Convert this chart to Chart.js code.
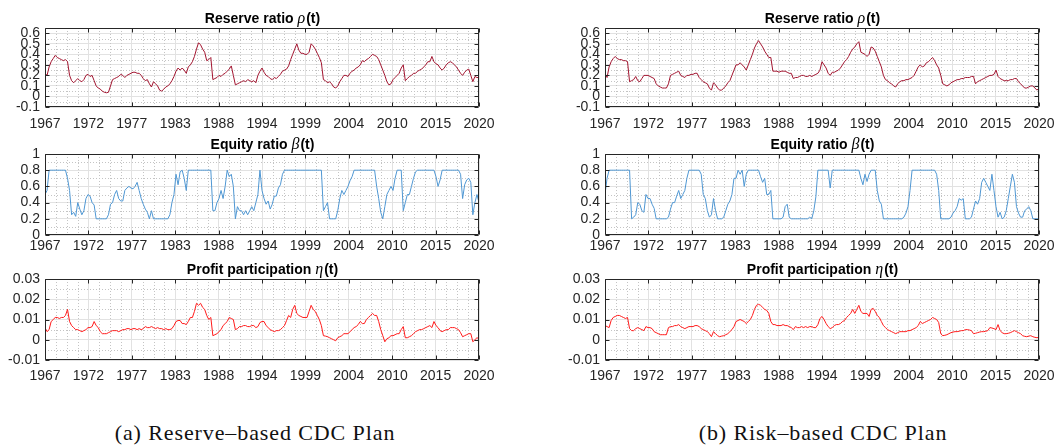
<!DOCTYPE html>
<html>
<head>
<meta charset="utf-8">
<script src="https://cdn.jsdelivr.net/npm/chart.js@4.4.1/dist/chart.umd.min.js"></script>
<style>
  html, body { margin: 0; padding: 0; background: #fff; }
  body { width: 1059px; height: 447px; position: relative; overflow: hidden; }
  .panel { position: absolute; }
  .caption {
    position: absolute;
    font-family: "Liberation Serif", serif;
    font-size: 22px;
    line-height: 22px;
    letter-spacing: 0.9px;
    color: #111;
    white-space: nowrap;
    transform: translateX(-50%);
  }
</style>
</head>
<body>

<div class="caption" style="left:255px; top:422px">(a) Reserve–based CDC Plan</div>
<div class="caption" style="left:823px; top:422px">(b) Risk–based CDC Plan</div>

<script>
// quarterly samples, 1967 .. 2020
const yearStart = 1967;
const yearEnd = 2020;
const years = Array.from({ length: (yearEnd - yearStart) * 4 + 1 }, (_, i) => yearStart + i / 4);

const xTickPos = [1967, 1972.3, 1977.6, 1982.9, 1988.2, 1993.5, 1998.8, 2004.1, 2009.4, 2014.7, 2020];
const xTickLabels = ['1967', '1972', '1977', '1983', '1988', '1994', '1999', '2004', '2010', '2015', '2020'];

const rhoTicks = [-0.1, 0, 0.1, 0.2, 0.3, 0.4, 0.5, 0.6];
const betaTicks = [0, 0.2, 0.4, 0.6, 0.8, 1];
const etaTicks = [-0.01, 0, 0.01, 0.02, 0.03];

// (a) reserve-based plan
const rhoReserve = [
  0.22, 0.20, 0.28, 0.33,   0.36, 0.39, 0.37, 0.36,   0.35, 0.34, 0.35, 0.33,
  0.20, 0.15, 0.13, 0.15,   0.17, 0.15, 0.14, 0.16,   0.20, 0.21, 0.19, 0.20,
  0.15, 0.10, 0.08, 0.07,   0.05, 0.04, 0.035, 0.04,  0.10, 0.16, 0.17, 0.18,
  0.19, 0.21, 0.20, 0.18,   0.20, 0.21, 0.22, 0.23,   0.23, 0.22, 0.22, 0.20,
  0.17, 0.15, 0.16, 0.12,   0.09, 0.14, 0.12, 0.10,   0.06, 0.05, 0.07, 0.09,
  0.10, 0.12, 0.15, 0.19,   0.24, 0.27, 0.25, 0.27,   0.25, 0.22, 0.28, 0.30,
  0.33, 0.38, 0.45, 0.51,   0.49, 0.45, 0.42, 0.34,   0.35, 0.37, 0.16, 0.17,
  0.18, 0.20, 0.19, 0.21,   0.22, 0.24, 0.26, 0.29,   0.20, 0.11, 0.12, 0.13,
  0.14, 0.15, 0.14, 0.16,   0.15, 0.14, 0.15, 0.13,   0.20, 0.24, 0.27, 0.23,
  0.20, 0.19, 0.17, 0.16,   0.18, 0.17, 0.19, 0.21,   0.24, 0.25, 0.26, 0.29,
  0.35, 0.40, 0.45, 0.50,   0.44, 0.41, 0.41, 0.40,   0.40, 0.42, 0.50, 0.48,
  0.45, 0.41, 0.37, 0.32,   0.16, 0.15, 0.13, 0.14,   0.12, 0.09, 0.08, 0.10,
  0.14, 0.17, 0.20, 0.20,   0.19, 0.22, 0.24, 0.25,   0.27, 0.28, 0.30, 0.34,
  0.33, 0.35, 0.36, 0.38,   0.40, 0.39, 0.38, 0.35,   0.30, 0.25, 0.20, 0.14,
  0.11, 0.12, 0.16, 0.18,   0.20, 0.22, 0.27, 0.30,   0.15, 0.17, 0.19, 0.20,
  0.22, 0.22, 0.24, 0.25,   0.26, 0.28, 0.30, 0.33,   0.33, 0.38, 0.33, 0.31,
  0.30, 0.27, 0.25, 0.27,   0.30, 0.32, 0.33, 0.32,   0.30, 0.28, 0.25, 0.22,
  0.20, 0.23, 0.25, 0.26,   0.20, 0.14, 0.19, 0.18,
  0.18
];

const betaReserve = [
  0.50, 0.55, 0.80, 0.80,   0.80, 0.80, 0.80, 0.80,   0.80, 0.80, 0.80, 0.70,
  0.55, 0.25, 0.28, 0.23,   0.40, 0.32, 0.25, 0.30,   0.45, 0.50, 0.48, 0.40,
  0.37, 0.20, 0.20, 0.20,   0.20, 0.20, 0.20, 0.25,   0.38, 0.40, 0.50, 0.55,
  0.45, 0.42, 0.42, 0.55,   0.58, 0.60, 0.58, 0.57,   0.60, 0.65, 0.55, 0.45,
  0.38, 0.32, 0.28, 0.20,   0.30, 0.20, 0.20, 0.20,   0.20, 0.20, 0.20, 0.20,
  0.20, 0.25, 0.40, 0.50,   0.75, 0.62, 0.78, 0.80,   0.70, 0.55, 0.80, 0.80,
  0.80, 0.80, 0.80, 0.80,   0.80, 0.80, 0.80, 0.80,   0.80, 0.80, 0.30, 0.30,
  0.40, 0.45, 0.55, 0.45,   0.60, 0.80, 0.72, 0.75,   0.60, 0.20, 0.35, 0.30,
  0.30, 0.25, 0.30, 0.25,   0.30, 0.35, 0.30, 0.40,   0.50, 0.80, 0.55, 0.45,
  0.38, 0.42, 0.32, 0.38,   0.48, 0.48, 0.58, 0.62,   0.75, 0.80, 0.80, 0.80,
  0.80, 0.80, 0.80, 0.80,   0.80, 0.80, 0.80, 0.80,   0.80, 0.80, 0.80, 0.80,
  0.80, 0.80, 0.80, 0.80,   0.30, 0.35, 0.40, 0.20,   0.20, 0.20, 0.20, 0.30,
  0.45, 0.55, 0.50, 0.55,   0.60, 0.67, 0.72, 0.80,   0.80, 0.80, 0.80, 0.80,
  0.80, 0.80, 0.80, 0.80,   0.80, 0.80, 0.60, 0.45,   0.28, 0.20, 0.35, 0.50,
  0.55, 0.60, 0.55, 0.70,   0.80, 0.80, 0.80, 0.30,   0.40, 0.50, 0.50, 0.60,
  0.70, 0.78, 0.80, 0.80,   0.80, 0.80, 0.80, 0.80,   0.80, 0.80, 0.80, 0.72,
  0.60, 0.68, 0.80, 0.80,   0.80, 0.80, 0.80, 0.80,   0.80, 0.80, 0.80, 0.75,
  0.45, 0.62, 0.68, 0.70,   0.65, 0.25, 0.40, 0.50,
  0.40
];

const etaReserve = [
  0.006, 0.004, 0.005, 0.009,     0.010, 0.011, 0.011, 0.0105,    0.011, 0.011, 0.012, 0.015,
  0.009, 0.007, 0.006, 0.005,     0.005, 0.0045, 0.004, 0.0045,   0.005, 0.006, 0.006, 0.0065,
  0.009, 0.007, 0.006, 0.004,     0.003, 0.003, 0.003, 0.0035,    0.004, 0.0045, 0.0045, 0.0045,
  0.004, 0.0045, 0.005, 0.005,    0.0055, 0.0055, 0.005, 0.0055,  0.0055, 0.005, 0.0055, 0.005,
  0.0055, 0.0065, 0.006, 0.006,   0.0065, 0.006, 0.0055, 0.006,   0.0055, 0.0055, 0.005, 0.0055,
  0.005, 0.005, 0.0055, 0.007,    0.009, 0.0095, 0.0095, 0.008,   0.008, 0.0075, 0.009, 0.011,
  0.011, 0.014, 0.018, 0.017,     0.018, 0.016, 0.015, 0.012,     0.010, 0.011, 0.002, 0.0025,
  0.003, 0.004, 0.005, 0.007,     0.008, 0.009, 0.011, 0.0105,    0.010, 0.005, 0.0055, 0.0065,
  0.0065, 0.007, 0.007, 0.0065,   0.0065, 0.007, 0.007, 0.006,    0.0065, 0.0085, 0.009, 0.009,
  0.007, 0.006, 0.005, 0.0045,    0.004, 0.0045, 0.0045, 0.005,   0.006, 0.007, 0.0095, 0.012,
  0.011, 0.015, 0.017, 0.013,     0.012, 0.0115, 0.011, 0.011,    0.011, 0.014, 0.017, 0.015,
  0.014, 0.012, 0.010, 0.007,     0.002, 0.0018, 0.0015, 0.001,   0.0005, 0.0, -0.0005, 0.001,
  0.0015, 0.002, 0.003, 0.003,    0.003, 0.004, 0.005, 0.006,     0.0065, 0.0075, 0.009, 0.008,
  0.008, 0.010, 0.011, 0.012,     0.013, 0.012, 0.012, 0.009,     0.005, 0.002, -0.001, 0.0005,
  0.001, 0.002, 0.002, 0.0025,    0.003, 0.003, 0.005, 0.0065,    0.001, 0.001, 0.0015, 0.002,
  0.003, 0.004, 0.0045, 0.005,    0.005, 0.0055, 0.006, 0.0065,   0.007, 0.006, 0.009, 0.007,
  0.006, 0.0045, 0.004, 0.0045,   0.005, 0.005, 0.006, 0.006,     0.006, 0.0055, 0.005, 0.0035,
  0.0015, 0.002, 0.0025, 0.003,   0.003, -0.001, 0.0, 0.001,
  0.0005
];

// (b) risk-based plan
const rhoRisk = [
  0.22, 0.18, 0.28, 0.33,   0.36, 0.38, 0.36, 0.35,   0.35, 0.34, 0.34, 0.33,
  0.14, 0.15, 0.16, 0.19,   0.15, 0.14, 0.17, 0.20,   0.20, 0.20, 0.19, 0.18,
  0.17, 0.12, 0.10, 0.09,   0.08, 0.08, 0.08, 0.12,   0.20, 0.21, 0.22, 0.23,
  0.24, 0.20, 0.19, 0.18,   0.20, 0.20, 0.21, 0.21,   0.22, 0.22, 0.18, 0.16,
  0.14, 0.13, 0.12, 0.08,   0.06, 0.13, 0.11, 0.08,   0.06, 0.06, 0.08, 0.10,
  0.13, 0.15, 0.20, 0.25,   0.30, 0.30, 0.32, 0.30,   0.28, 0.25, 0.30, 0.35,
  0.40, 0.46, 0.50, 0.53,   0.50, 0.47, 0.43, 0.40,   0.37, 0.37, 0.24, 0.24,
  0.24, 0.23, 0.24, 0.24,   0.24, 0.23, 0.22, 0.22,   0.17, 0.18, 0.18, 0.19,
  0.20, 0.20, 0.19, 0.19,   0.20, 0.19, 0.20, 0.21,   0.22, 0.25, 0.33, 0.30,
  0.27, 0.22, 0.20, 0.23,   0.23, 0.24, 0.25, 0.27,   0.30, 0.33, 0.35, 0.38,
  0.42, 0.45, 0.47, 0.50,   0.52, 0.42, 0.41, 0.40,   0.38, 0.40, 0.47, 0.46,
  0.43, 0.38, 0.33, 0.28,   0.20, 0.16, 0.15, 0.13,   0.12, 0.10, 0.09, 0.12,
  0.14, 0.15, 0.15, 0.16,   0.16, 0.17, 0.18, 0.20,   0.24, 0.28, 0.30, 0.28,
  0.29, 0.32, 0.33, 0.35,   0.37, 0.34, 0.30, 0.27,   0.20, 0.12, 0.11, 0.10,
  0.11, 0.13, 0.14, 0.15,   0.16, 0.16, 0.17, 0.17,   0.18, 0.18, 0.18, 0.19,
  0.19, 0.12, 0.14, 0.15,   0.16, 0.17, 0.18, 0.19,   0.20, 0.20, 0.21, 0.25,
  0.19, 0.17, 0.16, 0.15,   0.15, 0.15, 0.16, 0.16,   0.17, 0.17, 0.14, 0.12,
  0.10, 0.08, 0.08, 0.09,   0.10, 0.10, 0.08, 0.06,
  0.08
];

const betaRisk = [
  0.50, 0.70, 0.80, 0.80,   0.80, 0.80, 0.80, 0.80,   0.80, 0.80, 0.80, 0.80,
  0.80, 0.20, 0.22, 0.25,   0.40, 0.38, 0.30, 0.28,   0.50, 0.45, 0.45, 0.38,
  0.33, 0.20, 0.20, 0.20,   0.20, 0.20, 0.20, 0.22,   0.32, 0.40, 0.40, 0.48,
  0.55, 0.45, 0.50, 0.55,   0.70, 0.80, 0.80, 0.80,   0.80, 0.80, 0.80, 0.75,
  0.50, 0.45, 0.30, 0.22,   0.25, 0.45, 0.30, 0.20,   0.20, 0.20, 0.22, 0.30,
  0.38, 0.42, 0.50, 0.70,   0.70, 0.80, 0.75, 0.80,   0.60, 0.75, 0.80, 0.80,
  0.80, 0.80, 0.80, 0.80,   0.72, 0.65, 0.70, 0.50,   0.50, 0.55, 0.20, 0.20,
  0.20, 0.20, 0.20, 0.22,   0.35, 0.38, 0.22, 0.20,   0.20, 0.20, 0.20, 0.20,
  0.20, 0.20, 0.20, 0.20,   0.22, 0.20, 0.30, 0.47,   0.80, 0.80, 0.80, 0.80,
  0.80, 0.80, 0.58, 0.80,   0.80, 0.80, 0.80, 0.80,   0.80, 0.80, 0.80, 0.80,
  0.80, 0.80, 0.80, 0.80,   0.80, 0.70, 0.62, 0.75,   0.66, 0.75, 0.80, 0.80,
  0.80, 0.55, 0.42, 0.38,   0.20, 0.20, 0.20, 0.20,   0.20, 0.20, 0.20, 0.20,
  0.20, 0.20, 0.22, 0.27,   0.35, 0.55, 0.80, 0.80,   0.80, 0.80, 0.80, 0.80,
  0.80, 0.80, 0.80, 0.80,   0.80, 0.80, 0.75, 0.55,   0.20, 0.20, 0.20, 0.20,
  0.20, 0.22, 0.27, 0.30,   0.35, 0.45, 0.43, 0.45,   0.20, 0.20, 0.20, 0.22,
  0.32, 0.42, 0.38, 0.45,   0.65, 0.70, 0.65, 0.60,   0.55, 0.75, 0.55, 0.35,
  0.22, 0.28, 0.20, 0.22,   0.30, 0.45, 0.60, 0.75,   0.65, 0.35, 0.27, 0.22,
  0.22, 0.30, 0.32, 0.35,   0.30, 0.20, 0.20, 0.20,
  0.20
];

const etaRisk = [
  0.007, 0.0065, 0.006, 0.0095,   0.011, 0.0115, 0.012, 0.012,    0.0115, 0.011, 0.0105, 0.011,
  0.0055, 0.0045, 0.0045, 0.0055, 0.006, 0.0055, 0.005, 0.0045,   0.0065, 0.006, 0.006, 0.0055,
  0.004, 0.0035, 0.003, 0.0025,   0.0025, 0.0025, 0.0025, 0.006,  0.0065, 0.0065, 0.007, 0.007,
  0.0075, 0.0065, 0.006, 0.0055,  0.006, 0.0065, 0.0065, 0.0065,  0.007, 0.007, 0.0065, 0.0055,
  0.005, 0.0045, 0.004, 0.003,    0.0015, 0.004, 0.003, 0.002,    0.0015, 0.0018, 0.002, 0.0025,
  0.003, 0.004, 0.005, 0.0065,    0.009, 0.0095, 0.010, 0.0095,   0.009, 0.008, 0.009, 0.010,
  0.012, 0.015, 0.017, 0.0175,    0.017, 0.016, 0.015, 0.0145,    0.013, 0.009, 0.0075, 0.0075,
  0.007, 0.007, 0.007, 0.0075,    0.007, 0.007, 0.0065, 0.006,    0.005, 0.0065, 0.006, 0.006,
  0.0065, 0.006, 0.0065, 0.006,   0.0065, 0.0065, 0.006, 0.006,   0.0075, 0.0105, 0.0115, 0.010,
  0.008, 0.0065, 0.0055, 0.006,   0.007, 0.0075, 0.0075, 0.008,   0.009, 0.0095, 0.011, 0.012,
  0.013, 0.015, 0.013, 0.015,     0.017, 0.014, 0.013, 0.013,     0.013, 0.0115, 0.015, 0.0155,
  0.014, 0.012, 0.011, 0.009,     0.007, 0.006, 0.005, 0.0045,    0.004, 0.0035, 0.003, 0.0035,
  0.004, 0.004, 0.004, 0.004,     0.0045, 0.0045, 0.005, 0.0055,  0.006, 0.007, 0.009, 0.008,
  0.0085, 0.009, 0.0095, 0.010,   0.011, 0.0105, 0.010, 0.0085,   0.003, 0.002, 0.0022, 0.0025,
  0.003, 0.0035, 0.0038, 0.004,   0.004, 0.0042, 0.0045, 0.0045,  0.005, 0.005, 0.0048, 0.0045,
  0.003, 0.0032, 0.0035, 0.0038,  0.004, 0.004, 0.0042, 0.0045,   0.006, 0.0058, 0.0055, 0.005,
  0.0075, 0.0045, 0.0035, 0.003,  0.003, 0.0032, 0.0035, 0.004,   0.0045, 0.004, 0.0035, 0.003,
  0.002, 0.0017, 0.0015, 0.0018,  0.002, 0.0015, 0.0012, 0.001,
  0.0012
];

const axisColor = '#262626';
const gridColor = '#e2e2e2';
const minorColor = '#c4c4c4';
const tickFont = { family: '"Liberation Sans", Arial, sans-serif', size: 14 };

const colLeft = [45, 605];
const plotW = 434;
const rows = [
  { top: 28, h: 79, labelPad: 9 },
  { top: 154, h: 81, labelPad: 3 },
  { top: 279, h: 81, labelPad: 8 }
];

const panels = [
  { col: 0, row: 0, values: rhoReserve, color: '#a2142f', ticks: rhoTicks, min: -0.1, max: 0.65, name: 'Reserve ratio ', sym: 'ρ' },
  { col: 0, row: 1, values: betaReserve, color: '#4f97d3', ticks: betaTicks, min: 0, max: 1, name: 'Equity ratio ', sym: 'β' },
  { col: 0, row: 2, values: etaReserve, color: '#ff1a1a', ticks: etaTicks, min: -0.01, max: 0.03, name: 'Profit participation ', sym: 'η' },
  { col: 1, row: 0, values: rhoRisk, color: '#a2142f', ticks: rhoTicks, min: -0.1, max: 0.65, name: 'Reserve ratio ', sym: 'ρ' },
  { col: 1, row: 1, values: betaRisk, color: '#4f97d3', ticks: betaTicks, min: 0, max: 1, name: 'Equity ratio ', sym: 'β' },
  { col: 1, row: 2, values: etaRisk, color: '#ff1a1a', ticks: etaTicks, min: -0.01, max: 0.03, name: 'Profit participation ', sym: 'η' }
];

const yAxisW = 45, titleH = 28, xAxisH = 26, padRight = 25;

// dotted minor grid, boxed axes with inward ticks, mixed-font title
function axesBox(p) {
  const minorY = [];
  for (let i = 0; i < p.ticks.length - 1; i++) minorY.push((p.ticks[i] + p.ticks[i + 1]) / 2);

  return {
    id: 'axesBox',
    beforeDatasetsDraw(chart) {
      const { ctx, chartArea: a, scales: { x, y } } = chart;
      ctx.save();
      ctx.strokeStyle = minorColor;
      ctx.lineWidth = 1;
      ctx.setLineDash([1, 2]);
      ctx.beginPath();
      for (let k = 0; k < xTickPos.length - 1; k++) {
        const step = (xTickPos[k + 1] - xTickPos[k]) / 4;
        for (let j = 1; j < 4; j++) {
          const px = Math.round(x.getPixelForValue(xTickPos[k] + j * step)) + 0.5;
          ctx.moveTo(px, a.top);
          ctx.lineTo(px, a.bottom);
        }
      }
      minorY.forEach(v => {
        const py = Math.round(y.getPixelForValue(v)) + 0.5;
        ctx.moveTo(a.left, py);
        ctx.lineTo(a.right, py);
      });
      ctx.stroke();
      ctx.restore();
    },
    afterDatasetsDraw(chart) {
      const { ctx, chartArea: a, scales: { x, y } } = chart;
      const L = Math.round(a.left) + 0.5, R = Math.round(a.right) - 0.5;
      const T = Math.round(a.top) + 0.5, B = Math.round(a.bottom) - 0.5;
      ctx.save();
      ctx.strokeStyle = axisColor;
      ctx.lineWidth = 1;
      ctx.beginPath();
      ctx.rect(L, T, R - L, B - T);
      xTickPos.forEach(v => {
        const px = Math.round(x.getPixelForValue(v)) + 0.5;
        ctx.moveTo(px, B); ctx.lineTo(px, B - 4);
        ctx.moveTo(px, T); ctx.lineTo(px, T + 4);
      });
      p.ticks.forEach(v => {
        const py = Math.round(y.getPixelForValue(v)) + 0.5;
        ctx.moveTo(L, py); ctx.lineTo(L + 4, py);
        ctx.moveTo(R, py); ctx.lineTo(R - 4, py);
      });
      ctx.stroke();
      ctx.restore();
    },
    afterDraw(chart) {
      const { ctx, chartArea: a } = chart;
      const parts = [
        { text: p.name, font: 'bold 14px "Liberation Sans", Arial, sans-serif' },
        { text: p.sym, font: 'italic 16px "Liberation Serif", serif' },
        { text: '(t)', font: 'bold 14px "Liberation Sans", Arial, sans-serif' }
      ];
      ctx.save();
      let total = 0;
      parts.forEach(s => { ctx.font = s.font; s.w = ctx.measureText(s.text).width; total += s.w; });
      let cx = (a.left + a.right) / 2 - total / 2;
      const base = a.top - 5;
      ctx.fillStyle = '#000';
      ctx.textBaseline = 'alphabetic';
      parts.forEach(s => { ctx.font = s.font; ctx.fillText(s.text, cx, base); cx += s.w + (s.text === p.sym ? 1 : 0); });
      ctx.restore();
    }
  };
}

panels.forEach(p => {
  const r = rows[p.row];
  const div = document.createElement('div');
  div.className = 'panel';
  div.style.left = (colLeft[p.col] - yAxisW) + 'px';
  div.style.top = (r.top - titleH) + 'px';
  const canvas = document.createElement('canvas');
  canvas.width = yAxisW + plotW + padRight;
  canvas.height = titleH + r.h + xAxisH;
  div.appendChild(canvas);
  document.body.appendChild(div);

  new Chart(canvas, {
    type: 'line',
    data: {
      datasets: [{
        data: years.map((x, i) => ({ x: x, y: p.values[i] })),
        borderColor: p.color,
        borderWidth: 1,
        pointRadius: 0,
        tension: 0,
        fill: false
      }]
    },
    options: {
      responsive: false,
      animation: false,
      events: [],
      layout: { padding: { top: titleH, right: padRight, left: 0, bottom: 0 } },
      plugins: { legend: { display: false }, tooltip: { enabled: false } },
      scales: {
        x: {
          type: 'linear',
          min: yearStart,
          max: yearEnd,
          afterBuildTicks: s => { s.ticks = xTickPos.map(v => ({ value: v })); },
          afterFit: s => { s.height = xAxisH; },
          ticks: {
            autoSkip: false,
            maxRotation: 0,
            padding: r.labelPad,
            color: axisColor,
            font: tickFont,
            callback: (v, i) => xTickLabels[i]
          },
          grid: { color: gridColor, lineWidth: 1, drawTicks: false },
          border: { display: false }
        },
        y: {
          type: 'linear',
          min: p.min,
          max: p.max,
          afterBuildTicks: s => { s.ticks = p.ticks.map(v => ({ value: v })); },
          afterFit: s => { s.width = yAxisW; },
          ticks: {
            autoSkip: false,
            padding: 5,
            color: axisColor,
            font: tickFont,
            callback: v => String(Number(v.toFixed(3)))
          },
          grid: { color: gridColor, lineWidth: 1, drawTicks: false },
          border: { display: false }
        }
      }
    },
    plugins: [axesBox(p)]
  });
});
</script>
</body>
</html>
